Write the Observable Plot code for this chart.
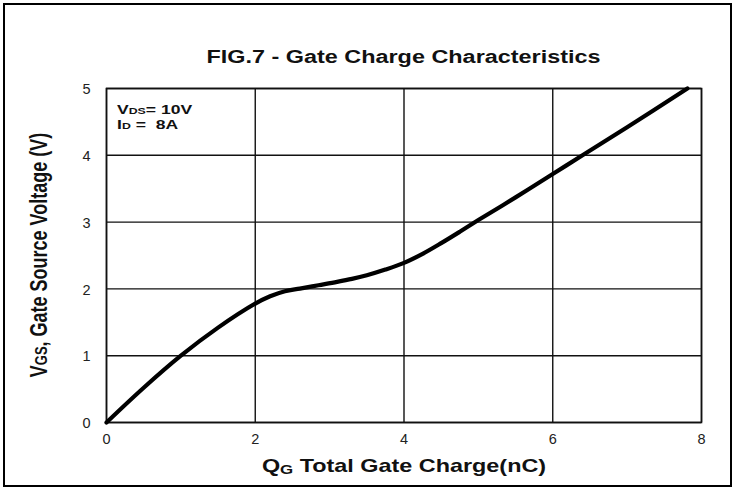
<!DOCTYPE html>
<html>
<head>
<meta charset="utf-8">
<script src="https://cdn.jsdelivr.net/npm/d3@7"></script>
<script src="https://cdn.jsdelivr.net/npm/@observablehq/plot@0.6"></script>
<style>
  html, body { margin: 0; padding: 0; background: #fff; }
  #fig { position: relative; width: 733px; height: 488px; overflow: hidden; font-family: "Liberation Sans", Arial, sans-serif; }
  #border { position: absolute; left: 3px; top: 3px; width: 729px; height: 484px; box-sizing: border-box; border: 2px solid #000; pointer-events: none; }
  #title { position: absolute; left: 106px; width: 595px; top: 47px; text-align: center; font-weight: bold; font-size: 18px; line-height: 20px; color: #111; transform: scaleX(1.3); transform-origin: 297.5px 50%; white-space: nowrap; }
  #chart { position: absolute; left: 0; top: 70px; }
</style>
</head>
<body>
<div id="fig">
  <div id="title">FIG.7 - Gate Charge Characteristics</div>
  <div id="chart"></div>
  <div id="border"></div>
</div>
<script>
// Data
const qg  = [0, 0.5, 1.0, 1.5, 2.0, 2.2, 2.4, 2.6, 2.85, 3.1, 3.3, 3.5, 3.75, 4.0, 4.25, 4.5, 4.75, 5.0, 5.5, 6.0, 6.4, 7.0, 7.81];
const vgs = [0, 0.52, 1.0, 1.42, 1.78, 1.89, 1.965, 2.005, 2.055, 2.105, 2.15, 2.205, 2.29, 2.39, 2.525, 2.685, 2.855, 3.03, 3.37, 3.72, 4.0, 4.42, 5.0];
const xTicks = [0, 2, 4, 6, 8];
const yTicks = [0, 1, 2, 3, 4, 5];

const data = qg.map((q, i) => ({q, v: vgs[i]}));

const svg = Plot.plot({
  width: 733,
  height: 418,
  marginTop: 18,
  marginLeft: 106,
  marginRight: 32,
  marginBottom: 66,
  style: {fontFamily: "'Liberation Sans', Arial, sans-serif", fontSize: "14px", color: "#222", background: "transparent"},
  x: {domain: [0, 8], label: null},
  y: {domain: [0, 5], label: null},
  marks: [
    Plot.gridX(xTicks, {stroke: "#111", strokeOpacity: 1, strokeWidth: 1.4}),
    Plot.gridY(yTicks, {stroke: "#111", strokeOpacity: 1, strokeWidth: 1.4}),
    Plot.frame({stroke: "#111", strokeWidth: 1.6}),
    Plot.line(data, {x: "q", y: "v", curve: "catmull-rom", stroke: "#000", strokeWidth: 4.2}),
    Plot.axisX(xTicks, {tickSize: 0, tickPadding: 11, fill: "#222", fontSize: 14.5, tickFormat: "d"}),
    Plot.axisY(yTicks, {tickSize: 0, tickPadding: 16, fill: "#222", fontSize: 14.5, tickFormat: "d", dy: 1})
  ]
});
document.getElementById("chart").appendChild(svg);

const s = d3.select(svg);
const SX = 1.3;

// Y axis title
const yt = s.append("text")
  .attr("transform", `translate(47,185) scale(${SX},1) rotate(-90)`)
  .attr("text-anchor", "middle")
  .attr("font-weight", "bold")
  .attr("font-size", 18)
  .attr("fill", "#111");
yt.append("tspan").text("V");
yt.append("tspan").attr("font-size", 13).text("GS");
yt.append("tspan").text(", Gate Source Voltage (V)");

// X axis title
const xt = s.append("text")
  .attr("transform", `translate(404,402) scale(${SX},1)`)
  .attr("text-anchor", "middle")
  .attr("font-weight", "bold")
  .attr("font-size", 18)
  .attr("fill", "#111");
xt.append("tspan").text("Q");
xt.append("tspan").attr("font-size", 13).attr("dy", 2).text("G");
xt.append("tspan").attr("dy", -2).text(" Total Gate Charge(nC)");

// Annotation
const a1 = s.append("text").attr("transform", `translate(117,44) scale(${SX},1)`).attr("text-anchor", "start").attr("font-weight", "bold").attr("font-size", 13.5).attr("fill", "#111");
a1.append("tspan").text("V");
a1.append("tspan").attr("font-size", 9.5).text("DS");
a1.append("tspan").text("= 10V");
const a2 = s.append("text").attr("transform", `translate(117,59) scale(${SX},1)`).attr("text-anchor", "start").attr("font-weight", "bold").attr("font-size", 13.5).attr("fill", "#111");
a2.append("tspan").text("I");
a2.append("tspan").attr("font-size", 9.5).text("D");
a2.append("tspan").attr("xml:space", "preserve").text(" =  8A");
</script>
</body>
</html>
